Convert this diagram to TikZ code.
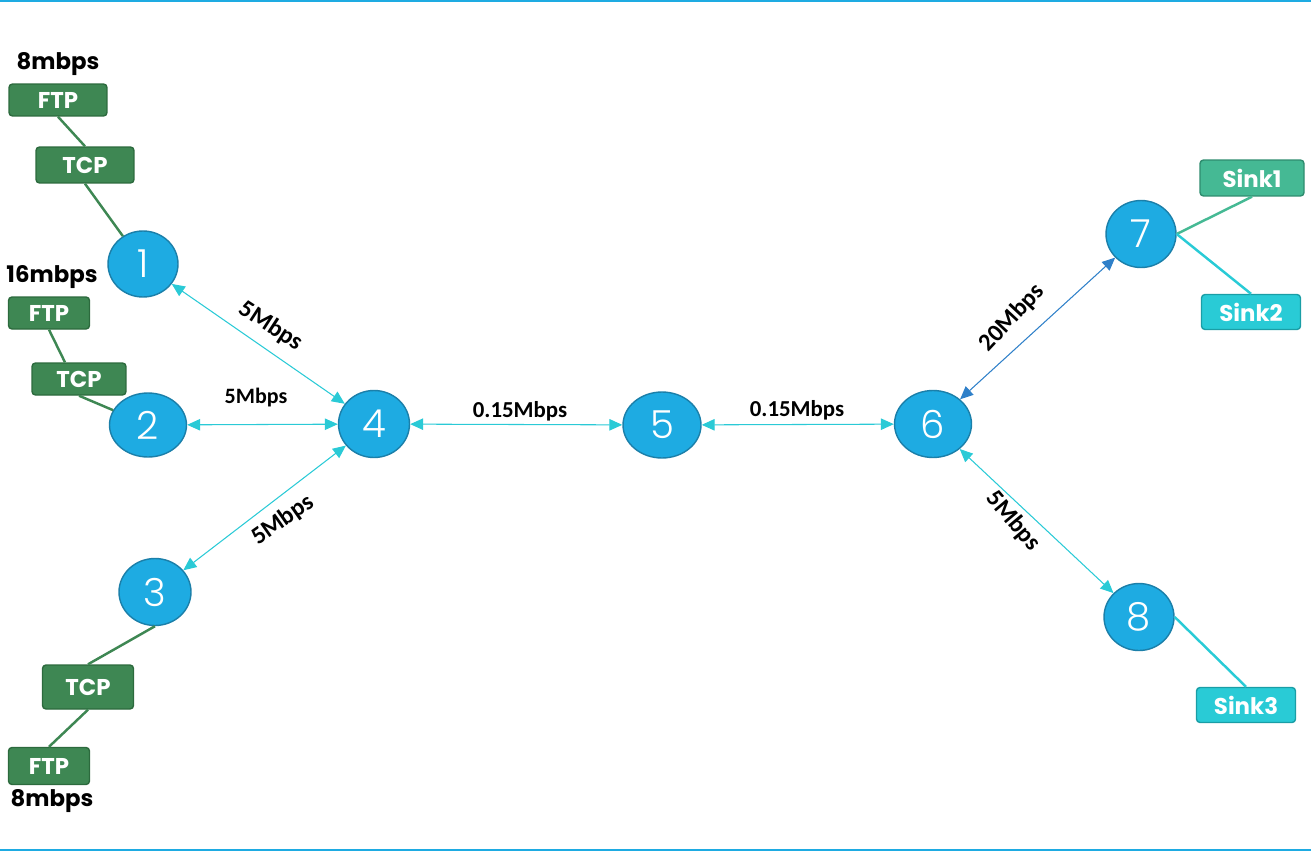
\documentclass[tikz,border=0pt]{standalone}
\usepackage{fontspec}
\setmainfont{Poppins}
\newfontfamily\calibri{Carlito}
\newfontfamily\thinfont{Poppins Light}
\usepackage{tikz}
\usetikzlibrary{arrows.meta, shapes.geometric}
\definecolor{hostblue}{HTML}{1EABE2}
\definecolor{hostedge}{HTML}{1B7FA9}
\definecolor{appgreen}{HTML}{3E8753}
\definecolor{appedge}{HTML}{2C6A3D}
\definecolor{sinkgreen}{HTML}{45B994}
\definecolor{sinkgedge}{HTML}{2E8C6E}
\definecolor{sinkcyan}{HTML}{29CBD6}
\definecolor{sinkcedge}{HTML}{1A9EA6}
\definecolor{linkcyan}{HTML}{2ACAD6}
\definecolor{linkblue}{HTML}{2F80C9}

\tikzset{
  hostnode/.style={ellipse, draw=hostedge, line width=0.8pt, fill=hostblue,
    text=white, inner sep=0pt, font=\thinfont\fontsize{22}{22}\selectfont},
  appbox/.style={rectangle, rounded corners=0.07cm, draw=appedge, line width=0.8pt,
    fill=appgreen, text=white, inner sep=0pt, font=\fontsize{13}{13}\selectfont\bfseries},
  sinkbox/.style={appbox, draw=sinkcedge, fill=sinkcyan},
  stacklink/.style={draw=appgreen, line width=1.4pt},
  linkarrow/.style={draw=linkcyan, line width=0.6pt,
    {Triangle[length=2.6mm,width=2.3mm]}-{Triangle[length=2.6mm,width=2.3mm]}},
  ratelabel/.style={font=\calibri\fontsize{14}{14}\selectfont\bfseries},
  flatlabel/.style={font=\calibri\fontsize{13}{13}\selectfont\bfseries},
  flowlabel/.style={font=\fontsize{13}{13}\selectfont\bfseries}
}

\begin{document}
\begin{tikzpicture}[x=0.02cm, y=-0.02cm]
    \useasboundingbox (0,0) rectangle (1311,852);
    % Frame lines
    \draw[hostblue, line width=1.2pt] (0,1) -- (1311,1);
    \draw[hostblue, line width=1.2pt] (0,850) -- (1311,850);

    % Hosts
    \node[hostnode, minimum width=1.40cm, minimum height=1.32cm] (n1) at (143,264) {1};
    \node[hostnode, minimum width=1.54cm, minimum height=1.28cm] (n2) at (148,425) {2};
    \node[hostnode, minimum width=1.44cm, minimum height=1.34cm] (n3) at (155,592) {3};
    \node[hostnode, minimum width=1.42cm, minimum height=1.34cm] (n4) at (374,424) {4};
    \node[hostnode, minimum width=1.56cm, minimum height=1.32cm] (n5) at (662,425) {5};
    \node[hostnode, minimum width=1.54cm, minimum height=1.34cm] (n6) at (933,424) {6};
    \node[hostnode, minimum width=1.40cm, minimum height=1.34cm] (n7) at (1141,234) {7};
    \node[hostnode, minimum width=1.40cm, minimum height=1.34cm] (n8) at (1139,617) {8};

    % Sources
    \node[appbox, minimum width=1.96cm, minimum height=0.64cm] (ftp1) at (58,100) {FTP};
    \node[appbox, minimum width=1.96cm, minimum height=0.72cm] (tcp1) at (85,165) {TCP};
    \node[appbox, minimum width=1.62cm, minimum height=0.64cm] (ftp2) at (49,313) {FTP};
    \node[appbox, minimum width=1.88cm, minimum height=0.64cm] (tcp2) at (79,379) {TCP};
    \node[appbox, minimum width=1.82cm, minimum height=0.88cm] (tcp3) at (88,687) {TCP};
    \node[appbox, minimum width=1.62cm, minimum height=0.74cm] (ftp3) at (49,766) {FTP};
    \node[flowlabel] (rate1) at (58,64) {8mbps};
    \node[flowlabel] (rate2) at (52,277) {16mbps};
    \node[flowlabel] (rate3) at (52,801) {8mbps};

    \draw[stacklink] (ftp1.south) -- (tcp1.north);
    \draw[stacklink] (tcp1.south) -- (n1);
    \draw[stacklink] (ftp2.south) -- (tcp2.130);
    \draw[stacklink] (tcp2.south) -- (n2);
    \draw[stacklink] (n3.south) -- (tcp3.north);
    \draw[stacklink] (tcp3.south) -- (ftp3.north);

    % Sinks
    \node[sinkbox, draw=sinkgedge, fill=sinkgreen, minimum width=2.08cm, minimum height=0.72cm] (sink1) at (1252,178) {Sink1};
    \node[sinkbox, minimum width=1.98cm, minimum height=0.70cm] (sink2) at (1251,312) {Sink2};
    \node[sinkbox, minimum width=1.98cm, minimum height=0.70cm] (sink3) at (1246,705) {Sink3};

    \draw[stacklink, draw=sinkgreen] (n7.east) -- (sink1.south);
    \draw[stacklink, draw=sinkcyan] (n7.east) -- (sink2.north);
    \draw[stacklink, draw=sinkcyan] (n8.east) -- (sink3.north);

    % Links
    \draw[linkarrow] (n1) -- (n4);
    \draw[linkarrow] (n2) -- (n4);
    \draw[linkarrow] (n3) -- (n4);
    \draw[linkarrow] (n4) -- (n5);
    \draw[linkarrow] (n5) -- (n6);
    \draw[linkarrow, draw=linkblue] (n6) -- (n7);
    \draw[linkarrow] (n6) -- (n8);

    \node[ratelabel, rotate=-33] (bw14) at (271,326) {5Mbps};
    \node[flatlabel, font=\calibri\fontsize{12.5}{12.5}\selectfont\bfseries] (bw24) at (256,398) {5Mbps};
    \node[ratelabel, rotate=35] (bw34) at (283,520) {5Mbps};
    \node[flatlabel] (bw45) at (520,411) {0.15Mbps};
    \node[flatlabel] (bw56) at (797,410) {0.15Mbps};
    \node[ratelabel, rotate=47] (bw67) at (1012,318) {20Mbps};
    \node[ratelabel, rotate=-50] (bw68) at (1013,521) {5Mbps};

\end{tikzpicture}
\end{document}
